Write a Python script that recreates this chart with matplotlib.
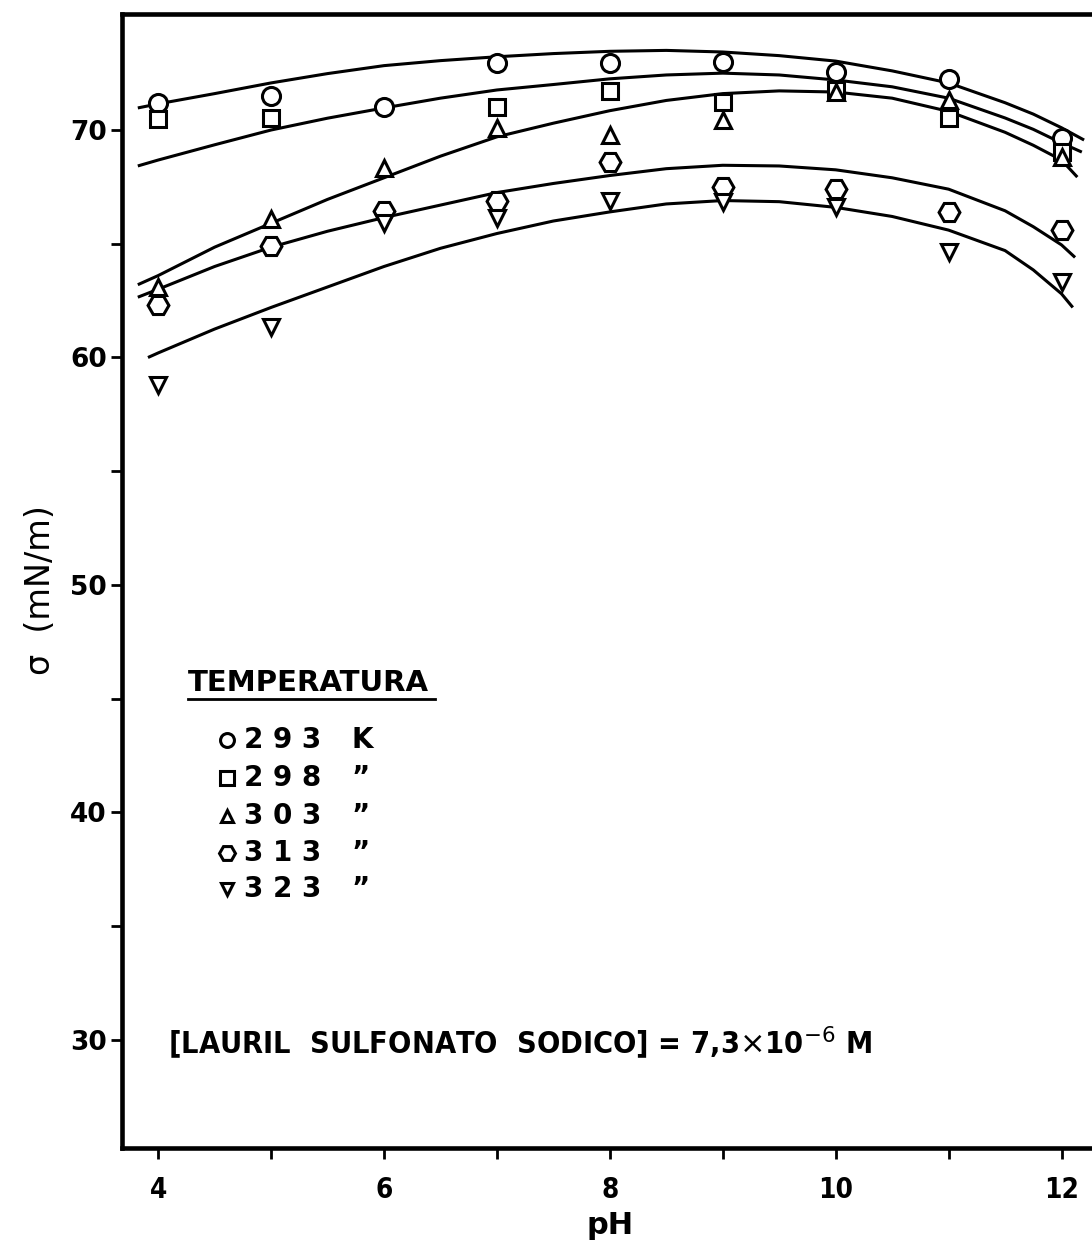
import matplotlib
matplotlib.use("Agg")
import matplotlib.pyplot as plt
from matplotlib.ticker import FixedLocator

# ---------------- data ----------------
ph = [4, 5, 6, 7, 8, 9, 10, 11, 12]

# measured points
pts_293 = [71.2, 71.5, 71.0, 72.95, 72.95, 73.0, 72.55, 72.25, 69.65]
ph_298 = [4, 5, 7, 8, 9, 10, 11, 12]
pts_298 = [70.5, 70.55, 71.0, 71.7, 71.25, 71.75, 70.55, 69.05]
pts_303 = [63.1, 66.1, 68.35, 70.1, 69.8, 70.45, 71.65, 71.3, 68.8]
pts_313 = [62.3, 64.9, 66.45, 66.9, 68.6, 67.5, 67.4, 66.4, 65.6]
pts_323 = [58.8, 61.35, 65.9, 66.15, 66.9, 66.85, 66.6, 64.65, 63.3]

# fitted curves
curve_ph_293 = [3.82, 4.0, 4.5, 5.0, 5.5, 6.0, 6.5, 7.0, 7.5, 8.0, 8.5, 9.0, 9.5, 10.0, 10.5, 11.0, 11.5, 11.75, 12.0, 12.2]
curve_293 = [70.97, 71.15, 71.6, 72.07, 72.48, 72.83, 73.05, 73.22, 73.36, 73.46, 73.5, 73.43, 73.27, 73.03, 72.6, 72.07, 71.2, 70.7, 70.1, 69.56]

curve_ph_298 = [3.82, 4.0, 4.5, 5.0, 5.5, 6.0, 6.5, 7.0, 7.5, 8.0, 8.5, 9.0, 9.5, 10.0, 10.5, 11.0, 11.5, 11.75, 12.0, 12.18]
curve_298 = [68.42, 68.68, 69.35, 70.0, 70.52, 70.97, 71.4, 71.76, 72.0, 72.25, 72.42, 72.5, 72.42, 72.2, 71.9, 71.4, 70.53, 70.03, 69.43, 69.03]

curve_ph_303 = [3.82, 4.0, 4.3, 4.5, 5.0, 5.5, 6.0, 6.5, 7.0, 7.5, 8.0, 8.5, 9.0, 9.5, 10.0, 10.5, 11.0, 11.5, 11.75, 12.0, 12.14]
curve_303 = [63.2, 63.6, 64.35, 64.85, 65.9, 66.95, 67.9, 68.85, 69.7, 70.3, 70.85, 71.3, 71.6, 71.72, 71.67, 71.4, 70.82, 69.9, 69.33, 68.68, 67.93]

curve_ph_313 = [3.82, 4.0, 4.5, 5.0, 5.5, 6.0, 6.5, 7.0, 7.5, 8.0, 8.5, 9.0, 9.5, 10.0, 10.5, 11.0, 11.5, 11.75, 12.0, 12.12]
curve_313 = [62.65, 63.0, 64.0, 64.85, 65.55, 66.15, 66.7, 67.25, 67.65, 68.0, 68.3, 68.45, 68.42, 68.25, 67.9, 67.4, 66.45, 65.75, 64.95, 64.4]

curve_ph_323 = [3.91, 4.0, 4.5, 5.0, 5.5, 6.0, 6.5, 7.0, 7.5, 8.0, 8.5, 9.0, 9.5, 10.0, 10.5, 11.0, 11.5, 11.75, 12.0, 12.1]
curve_323 = [60.0, 60.2, 61.25, 62.2, 63.1, 64.0, 64.8, 65.45, 66.0, 66.4, 66.75, 66.9, 66.85, 66.6, 66.2, 65.6, 64.7, 63.85, 62.8, 62.2]

x_ticks = [4, 6, 8, 10, 12]
x_minor = [5, 7, 9, 11]
y_ticks = [30, 40, 50, 60, 70]
y_minor = [35, 45, 55, 65]

legend_markers = ["o", "s", "^", "H", "v"]
legend_temps = ["2 9 3", "2 9 8", "3 0 3", "3 1 3", "3 2 3"]
legend_units = ["K", "\u201d", "\u201d", "\u201d", "\u201d"]

# ---------------- figure ----------------
W, H = 1092, 1249
fig = plt.figure(figsize=(W / 100, H / 100), dpi=100)
L, R, T, B = 122, 1092, 14, 1148
ax = fig.add_axes([L / W, 1 - B / H, (R - L) / W, (B - T) / H])

ax.set_xlim(3.68, 12.27)
ax.set_ylim(25.25, 75.1)

lw = 2.2
for cx, cy in [(curve_ph_293, curve_293), (curve_ph_298, curve_298),
               (curve_ph_303, curve_303), (curve_ph_313, curve_313),
               (curve_ph_323, curve_323)]:
    ax.plot(cx, cy, color="black", lw=lw, solid_capstyle="butt",
            solid_joinstyle="round", zorder=2)

mk = dict(ls="none", mfc="white", mec="black", mew=2.2, zorder=3)
ax.plot(ph, pts_293, marker="o", ms=13, **mk)
ax.plot(ph_298, pts_298, marker="s", ms=12, **mk)
ax.plot(ph, pts_303, marker="^", ms=11, **mk)
ax.plot(ph, pts_313, marker="H", ms=15, **mk)
ax.plot(ph, pts_323, marker="v", ms=11, **mk)

# spines & ticks
for s in ["left", "bottom", "top"]:
    ax.spines[s].set_linewidth(3.3)
ax.spines["right"].set_visible(False)

ax.xaxis.set_major_locator(FixedLocator(x_ticks))
ax.xaxis.set_minor_locator(FixedLocator(x_minor))
ax.yaxis.set_major_locator(FixedLocator(y_ticks))
ax.yaxis.set_minor_locator(FixedLocator(y_minor))
ax.tick_params(which="both", direction="out", length=8, width=2.0, top=False, right=False)
ax.tick_params(axis="x", which="major", labelsize=20, pad=12)
ax.tick_params(axis="y", which="major", labelsize=19, pad=3)
ax.set_xticklabels([str(v) for v in x_ticks])
for lab in ax.get_yticklabels() + ax.get_xticklabels():
    lab.set_fontweight("bold")
for lab in ax.get_xticklabels():
    lab.set_fontstretch("condensed")

fig.text(610 / W, 1 - 1226 / H, "pH", fontsize=22, ha="center", va="center",
         fontweight="bold")
fig.text(40 / W, 1 - 590 / H, "\u03c3  (mN/m)", fontsize=24, rotation=90,
         ha="center", va="center")


def axf(x, y):
    return (x - L) / (R - L), (B - y) / (B - T)


# legend block
tx, ty = axf(188, 683)
ax.text(tx, ty, "TEMPERATURA", transform=ax.transAxes, fontsize=21,
        ha="left", va="center", fontweight="bold")
ux0, uy = axf(188, 699)
ux1, _ = axf(435, 699)
ax.plot([ux0, ux1], [uy, uy], transform=ax.transAxes, color="black", lw=2.0, clip_on=False)

rows_y = [740, 778, 816, 853, 889]
leg_ms = [10, 9.5, 9, 11.5, 9]
for m, s, t, u, yy in zip(legend_markers, leg_ms, legend_temps, legend_units, rows_y):
    mx, my = axf(227, yy)
    ax.plot([mx], [my], transform=ax.transAxes, marker=m, ms=s, ls="none",
            mfc="white", mec="black", mew=2.2, clip_on=False)
    t1, _ = axf(244, yy)
    ax.text(t1, my, t, transform=ax.transAxes, fontsize=20, ha="left", va="center",
            fontweight="bold")
    t2, _ = axf(352, yy)
    ax.text(t2, my, u, transform=ax.transAxes, fontsize=20, ha="left", va="center",
            fontweight="bold")

# concentration note
nx, ny = axf(168, 1043)
ax.text(nx, ny, r"[LAURIL  SULFONATO  SODICO] = 7,3$\times$10$^{-6}$ M",
        transform=ax.transAxes, fontsize=22, ha="left", va="center",
        fontstretch="condensed", fontweight="bold")

fig.savefig("out.png", dpi=100, facecolor="white")
